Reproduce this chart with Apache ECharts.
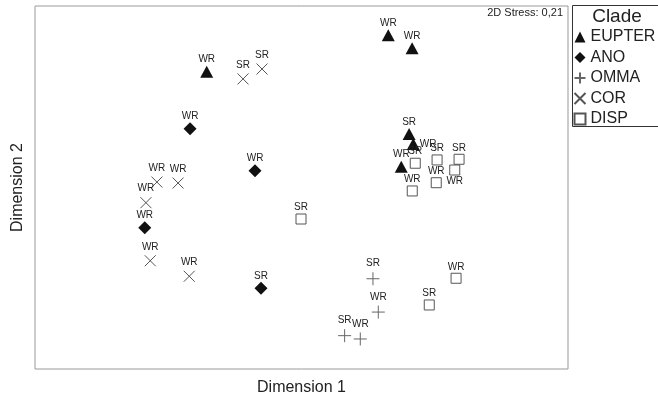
<!DOCTYPE html>
<html>
<head>
<meta charset="utf-8">
<script src="https://cdn.jsdelivr.net/npm/echarts@6/dist/echarts.min.js"></script>
<style>
  html, body { margin: 0; padding: 0; background: #fff; }
  #chart { width: 658px; height: 397px; }
</style>
</head>
<body>
<div id="chart"></div>
<script>
// NMDS coordinates (dimension 1, dimension 2), per clade
const clades = ['EUPTER', 'ANO', 'OMMA', 'COR', 'DISP'];

const eupterX = [-0.569, 0.521, 0.664, 0.646, 0.671, 0.599];
const eupterY = [0.702, 0.922, 0.844, 0.324, 0.264, 0.126];
const eupterLab = ['WR', 'WR', 'WR', 'SR', 'WR', 'WR'];

const anoX = [-0.669, -0.279, -0.941, -0.243];
const anoY = [0.356, 0.102, -0.244, -0.611];
const anoLab = ['WR', 'WR', 'WR', 'SR'];

const ommaX = [0.429, 0.461, 0.259, 0.353];
const ommaY = [-0.553, -0.755, -0.898, -0.918];
const ommaLab = ['SR', 'WR', 'SR', 'WR'];

const corX = [-0.351, -0.237, -0.868, -0.741, -0.934, -0.908, -0.674];
const corY = [0.658, 0.718, 0.033, 0.027, -0.092, -0.444, -0.538];
const corLab = ['SR', 'SR', 'WR', 'WR', 'WR', 'WR', 'WR'];

const dispX = [-0.003, 0.683, 0.814, 0.946, 0.920, 0.809, 0.665, 0.928, 0.767];
const dispY = [-0.191, 0.147, 0.167, 0.171, 0.106, 0.029, -0.021, -0.550, -0.712];
const dispLab = ['SR', 'SR', 'SR', 'SR', 'WR', 'WR', 'WR', 'WR', 'SR'];

const stressText = '2D Stress: 0,21';

// a few labels sit beside their point instead of above it
const labelOverride = {
    'EUPTER-4': { position: 'right', distance: 0, offset: [-2, -3] },
    'EUPTER-5': { position: 'top', offset: [-8, 0] },
    'COR-2': { position: 'top', offset: [-5, 0] },
    'DISP-4': { position: 'bottom', distance: 1, offset: [3, 0] }
};

const FONT = 'Liberation Sans, Arial, sans-serif';
const INK = '#222';

function points(name, xs, ys, labs) {
    return xs.map((x, i) => {
        const d = { value: [x, ys[i]], name: labs[i] };
        const o = labelOverride[name + '-' + i];
        if (o) d.label = o;
        return d;
    });
}

const symbols = {
    EUPTER: { symbol: 'triangle', size: [13, 12], item: { color: '#111', opacity: 1 } },
    ANO: { symbol: 'diamond', size: [13, 13], item: { color: '#111', opacity: 1 } },
    OMMA: { symbol: 'path://M0,6L12,6M6,0L6,12', size: 13,
            item: { color: 'none', borderColor: '#666', borderWidth: 1, opacity: 1 } },
    COR: { symbol: 'path://M0,0L10,10M10,0L0,10', size: 11,
           item: { color: 'none', borderColor: '#555', borderWidth: 1, opacity: 1 } },
    DISP: { symbol: 'rect', size: 10,
            item: { color: '#fff', borderColor: '#555', borderWidth: 1, opacity: 1 } }
};

const seriesData = {
    EUPTER: points('EUPTER', eupterX, eupterY, eupterLab),
    ANO: points('ANO', anoX, anoY, anoLab),
    OMMA: points('OMMA', ommaX, ommaY, ommaLab),
    COR: points('COR', corX, corY, corLab),
    DISP: points('DISP', dispX, dispY, dispLab)
};

const chart = echarts.init(document.getElementById('chart'), null, { renderer: 'canvas' });

chart.setOption({
    animation: false,
    backgroundColor: '#fff',
    textStyle: { fontFamily: FONT },
    grid: {
        left: 35, right: 90, top: 6, bottom: 28,
        outerBoundsMode: 'none', containLabel: false,
        show: true, borderColor: '#999', borderWidth: 1
    },
    xAxis: {
        type: 'value', min: -1.6, max: 1.6,
        name: 'Dimension 1', nameLocation: 'middle', nameGap: 11,
        nameTextStyle: { fontSize: 16, color: INK, fontFamily: FONT },
        axisLine: { show: false }, axisTick: { show: false },
        axisLabel: { show: false }, splitLine: { show: false }
    },
    yAxis: {
        type: 'value', min: -1.1, max: 1.1,
        name: 'Dimension 2', nameLocation: 'middle', nameGap: 9,
        nameTextStyle: { fontSize: 16, color: INK, fontFamily: FONT },
        axisLine: { show: false }, axisTick: { show: false },
        axisLabel: { show: false }, splitLine: { show: false }
    },
    legend: {
        orient: 'vertical', left: 567, top: 24,
        itemWidth: 11, itemHeight: 11, itemGap: 4.5,
        textStyle: { fontSize: 16, color: INK, fontFamily: FONT },
        data: clades
    },
    graphic: [
        {
            type: 'rect', shape: { x: 572.5, y: 5.5, width: 100, height: 121 },
            style: { fill: 'none', stroke: '#333', lineWidth: 1 }, silent: true
        },
        {
            type: 'text', x: 617, y: 17,
            style: { text: 'Clade', fontSize: 19, fill: INK, font: '19px ' + FONT,
                     textAlign: 'center', textVerticalAlign: 'middle' }
        },
        {
            type: 'text', x: 563, y: 13,
            style: { text: stressText, font: '11px ' + FONT, fill: INK,
                     textAlign: 'right', textVerticalAlign: 'middle' }
        }
    ],
    series: clades.map(c => ({
        name: c,
        type: 'scatter',
        symbol: symbols[c].symbol,
        symbolSize: symbols[c].size,
        itemStyle: symbols[c].item,
        label: {
            show: true, position: 'top', distance: 1,
            formatter: p => p.name,
            fontSize: 10, color: INK, fontFamily: FONT
        },
        labelLayout: { hideOverlap: false },
        data: seriesData[c]
    }))
});
</script>
</body>
</html>
